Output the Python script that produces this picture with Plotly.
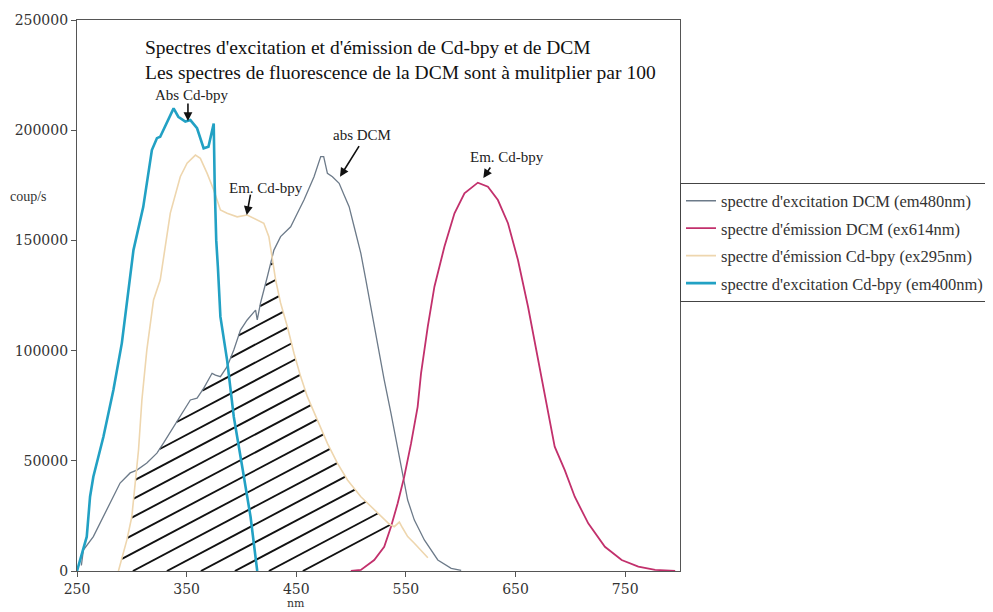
import numpy as np
import plotly.graph_objects as go

# ---------------- data ----------------
# spectre d'excitation Cd-bpy (em400nm)
cyan_x = [250, 258.9, 261.9, 264.9, 274.1, 283.2, 290.9, 295.5, 301.5, 310.4, 318.3, 322.9,
          325.9, 338.1, 342.4, 348.8, 353.4, 359.5, 365.5, 369.9, 373.1, 374.7, 375.6, 377.0,
          378.5, 380.8, 386.9, 393.0, 400.7, 408.3, 414.4]
cyan_y = [0, 15560, 33700, 42800, 60900, 82100, 103400, 121600, 145600, 165100, 191000, 196400,
          197000, 209900, 206100, 203900, 204600, 200900, 191800, 192500, 200100, 203000, 175000, 150000,
          138000, 115400, 95700, 70000, 47300, 24600, 0]

# spectre d'émission Cd-bpy (ex295nm)
beige_x = [287.8, 295.5, 300.0, 303.1, 306.1, 309.2, 313.7, 319.8, 325.9, 335.1, 344.2, 350.4,
           358.0, 362.5, 368.7, 374.7, 380.8, 386.9, 396.1, 405.2, 414.4, 420.4, 425.0, 429.6,
           431.2, 435.7, 441.9, 447.9, 454.0, 460.1, 469.2, 478.4, 487.5, 496.7, 508.9, 521.1,
           534.8, 539.4, 544.0, 547.0, 551.6, 557.7, 563.8, 570.0]
beige_y = [0, 14100, 24600, 39900, 54900, 77600, 100300, 123000, 132000, 162400, 178900, 185000,
           188700, 187200, 180400, 172900, 163800, 162300, 160700, 161500, 159300, 157800, 151700, 138100,
           132000, 121600, 110800, 98800, 88200, 79100, 68500, 57900, 48900, 41300, 33700, 27700,
           21300, 20100, 22200, 19500, 15600, 12600, 9500, 6000]

# spectre d'excitation DCM (em480nm)
gray_x = [254.0, 255.8, 264.9, 274.1, 283.2, 289.3, 298.5, 304.6, 313.7, 322.9, 329.0, 338.1,
          344.2, 353.4, 359.5, 365.5, 373.2, 376.3, 380.8, 386.9, 393.0, 399.1, 405.2, 412.9,
          414.4, 417.4, 423.6, 429.6, 435.7, 444.9, 451.0, 457.0, 466.2, 472.3, 475.0, 478.4,
          483.0, 486.0, 489.1, 493.6, 498.2, 502.8, 508.9, 513.5, 521.7, 530.2, 536.4, 542.5,
          547.0, 551.6, 557.7, 566.8, 579.1, 591.3, 600.4]
gray_y = [2500, 9500, 15600, 24600, 33700, 39900, 44500, 45800, 49000, 53500, 58100, 65500,
          70000, 77600, 78400, 82900, 89700, 88900, 88200, 92700, 100300, 109300, 113900, 118400,
          113900, 121600, 133500, 145600, 151700, 156200, 162300, 168300, 178900, 188000, 188000, 180400,
          178900, 177400, 175900, 170600, 165300, 156200, 144100, 132000, 109300, 86700, 71500, 56400,
          44300, 32200, 23100, 14100, 5000, 1200, 300]

# spectre d'émission DCM (ex614nm)
mag_x = [499.8, 508.9, 521.1, 530.2, 536.4, 542.5, 548.5, 554.7, 560.7, 563.8, 569.9, 576.0,
         585.1, 594.3, 603.4, 615.6, 624.8, 633.9, 643.1, 652.2, 661.4, 670.5, 679.7, 685.7,
         694.9, 704.0, 716.3, 731.5, 746.8, 762.0, 777.3, 795.6]
mag_y = [0, 500, 5000, 11000, 20100, 30700, 42800, 57900, 74500, 89700, 110800, 129000,
         147100, 162300, 171400, 176200, 174400, 168300, 157800, 141100, 119900, 95700, 71500, 56400,
         45800, 33700, 21600, 11000, 5000, 2000, 500, 100]

x_ticks = [250, 350, 450, 550, 650, 750]
y_ticks = [0, 50000, 100000, 150000, 200000, 250000]

names = ["spectre d'excitation DCM (em480nm)",
         "spectre d'émission DCM (ex614nm)",
         "spectre d'émission Cd-bpy (ex295nm)",
         "spectre d'excitation Cd-bpy (em400nm)"]

# ---------------- hatching of the overlap (computed from the curves) ----------------
xg = np.arange(285.0, 575.0, 0.25)
top = np.minimum(np.interp(xg, gray_x, gray_y, left=0, right=0),
                 np.interp(xg, beige_x, beige_y, left=0, right=0))
slope = 263.0          # hatch slope in data units per nm
spacing = 31.0         # x-intercept spacing in nm
hx, hy = [], []
for x0 in np.arange(456.0, -120.0, -spacing):
    yl = slope * (xg - x0)
    inside = (yl >= 0) & (yl <= top)
    idx = np.where(inside)[0]
    if len(idx) < 2:
        continue
    runs = np.split(idx, np.where(np.diff(idx) != 1)[0] + 1)
    for r in runs:
        if len(r) < 2:
            continue
        hx += [xg[r[0]], xg[r[-1]], None]
        hy += [yl[r[0]], yl[r[-1]], None]

fig = go.Figure()
fig.add_trace(go.Scatter(x=hx, y=hy, mode="lines", line=dict(color="#111111", width=1.9),
                         showlegend=False, hoverinfo="skip"))

series = [(gray_x, gray_y, "#6c7a89", 1.3),
          (mag_x, mag_y, "#c2306c", 1.8),
          (beige_x, beige_y, "#eed6ae", 1.6),
          (cyan_x, cyan_y, "#22a1c4", 2.6)]
for i, (sx, sy, col, w) in enumerate(series):
    fig.add_trace(go.Scatter(x=sx, y=sy, mode="lines", name=names[i], legendgroup=f"g{i}",
                             line=dict(color=col, width=w)))

serif = "Liberation Serif"
tickfont = dict(family="DejaVu Serif", size=14, color="#333333")

# page body has an 8px margin: the figure is offset by 8px, sizes compensate for it
fig.update_layout(
    width=985, height=604,
    margin=dict(l=69, r=313, t=12, b=41, autoexpand=False),
    paper_bgcolor="white", plot_bgcolor="white",
    showlegend=True,
    legend=dict(x=1.0, xanchor="left", y=0.705, yanchor="top",
                bordercolor="#444444", borderwidth=1, bgcolor="white",
                font=dict(family=serif, size=16.5, color="#333333"),
                traceorder="grouped", tracegroupgap=3),
    xaxis=dict(range=[250, 800], tickvals=x_ticks, showgrid=False, zeroline=False,
               showline=True, linecolor="#555555", linewidth=1.2, mirror=True, automargin=False,
               ticks="outside", ticklen=5, tickcolor="#555555", tickfont=tickfont),
    yaxis=dict(range=[0, 250000], tickvals=y_ticks, tickformat="d", showgrid=False, zeroline=False,
               showline=True, linecolor="#555555", linewidth=1.2, mirror=True, automargin=False,
               ticks="outside", ticklen=5, tickcolor="#555555", tickfont=tickfont),
)

ann = []
title_font = dict(family=serif, size=19.5, color="#111111")
ann.append(dict(text="Spectres d'excitation et d'émission de Cd-bpy et de DCM",
                xref="paper", yref="paper", x=(143 - 77) / 603, y=(571 - 47) / 551,
                xanchor="left", yanchor="middle", showarrow=False, font=title_font))
ann.append(dict(text="Les spectres de fluorescence de la DCM sont à mulitplier par 100",
                xref="paper", yref="paper", x=(143 - 77) / 603, y=(571 - 73) / 551,
                xanchor="left", yanchor="middle", showarrow=False, font=title_font))
# axis labels
ann.append(dict(text="coup/s", xref="paper", yref="paper", x=(28 - 77) / 603, y=(571 - 196) / 551,
                xanchor="center", yanchor="middle", showarrow=False,
                font=dict(family=serif, size=14, color="#333333")))
ann.append(dict(text="nm", xref="x", yref="paper", x=450, y=(571 - 603) / 551,
                xanchor="center", yanchor="middle", showarrow=False,
                font=dict(family="DejaVu Serif", size=11, color="#333333")))
# labels with arrows
labels = [("Abs Cd-bpy", 354, 216000, 351.2, 204200, 0, -19),
          ("Em. Cd-bpy", 422.8, 173600, 404.8, 161500, 4, -22),
          ("abs DCM", 510.4, 197800, 489.9, 178900, 20, -32),
          ("Em. Cd-bpy", 642.6, 188000, 620.6, 178300, 8, -12)]
for t, tx, ty, px, py, ax, ay in labels:
    ann.append(dict(text=t, x=tx, y=ty, xref="x", yref="y", showarrow=False,
                    font=dict(family=serif, size=15, color="#222222")))
    ann.append(dict(text="", x=px, y=py, xref="x", yref="y", showarrow=True,
                    ax=ax, ay=ay, arrowhead=2, arrowsize=1.1, arrowwidth=1.6,
                    arrowcolor="#111111", standoff=0))
fig.update_layout(annotations=ann)

fig.write_html("out.html")
